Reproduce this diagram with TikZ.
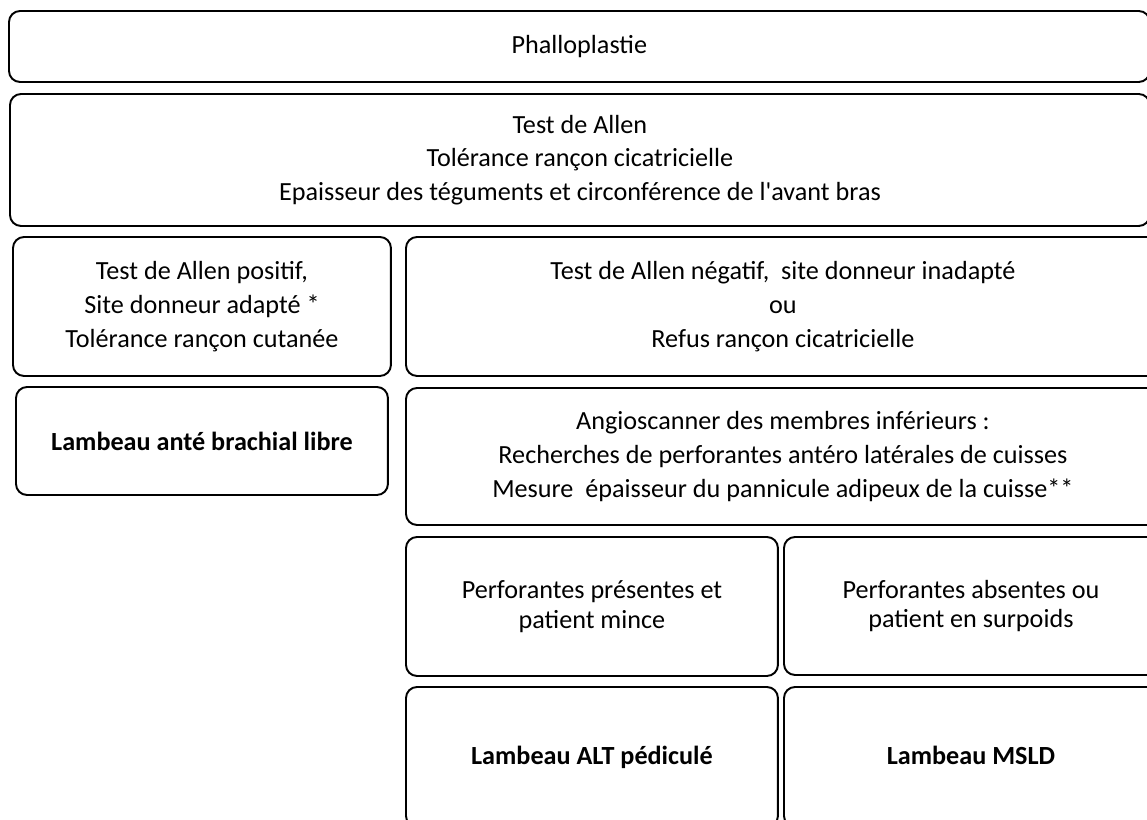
\documentclass[tikz,border=0pt]{standalone}
\usepackage{fontspec}
\setmainfont{Carlito}
\usepackage{tikz}
\usetikzlibrary{positioning}

\begin{document}
\begin{tikzpicture}[
    x=0.02cm, y=-0.02cm,
    font=\fontsize{14.9}{17}\selectfont,
    box/.style={rectangle, rounded corners=0.22cm, draw=black, line width=1.1pt, fill=white, align=center, text centered, anchor=north west, outer sep=0pt, inner sep=2pt},
    result/.style={box, font=\fontsize{14.9}{17}\selectfont\bfseries}
]
    \useasboundingbox (0,0) rectangle (1147,820);
    \clip (0,0) rectangle (1147,820);

    \node[box, minimum width=22.82cm, minimum height=1.42cm] (PHALLO) at (9,11) {Phalloplastie};
    \node[box, minimum width=22.80cm, minimum height=2.64cm] (BILAN) at (10,94)
        {Test de Allen\\[2.2pt] Tolérance rançon cicatricielle\\[2.2pt] Epaisseur des téguments et circonférence de l\textquotesingle avant bras};

    % branche avant-bras
    \node[box, minimum width=7.56cm, minimum height=2.78cm] (POSITIF) at (13,237)
        {Test de Allen positif,\\[2.2pt] Site donneur adapté *\\[2.2pt] Tolérance rançon cutanée};
    \node[result, minimum width=7.44cm, minimum height=2.16cm] (ANTEBRACHIAL) at (16,387) {Lambeau anté brachial libre};

    % branche cuisse
    \node[box, minimum width=15.08cm, minimum height=2.78cm] (NEGATIF) at (406,237)
        {Test de Allen négatif,\ \ site donneur inadapté\\[2.2pt] ou\\[2.2pt] Refus rançon cicatricielle};
    \node[box, minimum width=15.08cm, minimum height=2.74cm] (ANGIO) at (406,388)
        {Angioscanner des membres inférieurs :\\[2.2pt] Recherches de perforantes antéro latérales de cuisses\\[2.2pt] Mesure\ \ épaisseur du pannicule adipeux de la cuisse**};
    \node[box, minimum width=7.44cm, minimum height=2.78cm] (PRESENTES) at (406,537)
        {Perforantes présentes et\\ patient mince};
    \node[box, minimum width=7.48cm, minimum height=2.76cm] (ABSENTES) at (784,537)
        {Perforantes absentes ou\\ patient en surpoids};
    \node[result, minimum width=7.44cm, minimum height=2.80cm] (ALT) at (406,687) {Lambeau ALT pédiculé};
    \node[result, minimum width=7.48cm, minimum height=2.80cm] (MSLD) at (784,687) {\vphantom{ép}Lambeau MSLD};
\end{tikzpicture}
\end{document}
